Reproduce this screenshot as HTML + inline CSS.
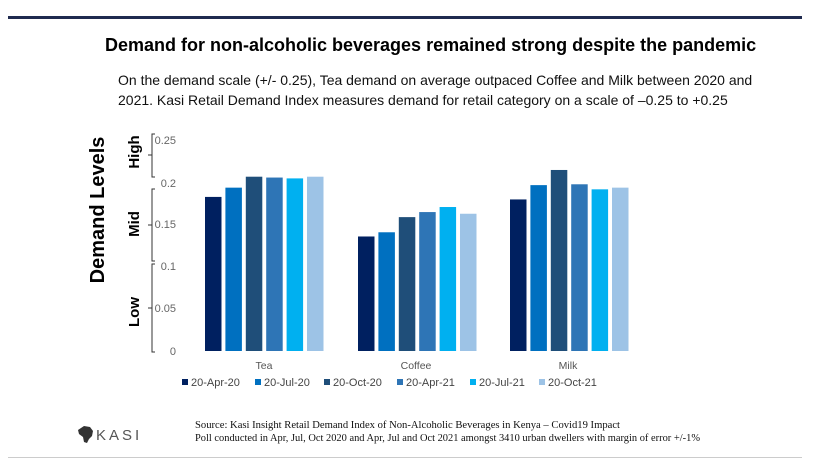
<!DOCTYPE html>
<html><head><style>
body{margin:0;width:829px;height:465px;background:#fff;font-family:"Liberation Sans",sans-serif;position:relative;overflow:hidden}
.a{position:absolute}
</style></head><body>
<div class="a" style="left:8px;top:16px;width:794px;height:3px;background:#1f2a4f"></div>
<div class="a" style="left:105px;top:35px;font-weight:bold;font-size:18px;color:#000;white-space:nowrap">Demand for non-alcoholic beverages remained strong despite the pandemic</div>
<div class="a" style="left:118px;top:70px;width:690px;font-size:14px;line-height:20px;color:#111">On the demand scale (+/- 0.25), Tea demand on average outpaced Coffee and Milk between 2020 and<br>2021. Kasi Retail Demand Index measures demand for retail category on a scale of –0.25 to +0.25</div>
<svg class="a" style="left:0;top:0" width="829" height="465" font-family="Liberation Sans, sans-serif">
<text transform="translate(104,210) rotate(-90)" text-anchor="middle" font-size="20" font-weight="bold">Demand Levels</text>
<text transform="translate(139,152) rotate(-90)" text-anchor="middle" font-size="15" font-weight="bold">High</text>
<text transform="translate(139,224) rotate(-90)" text-anchor="middle" font-size="15" font-weight="bold">Mid</text>
<text transform="translate(139,312) rotate(-90)" text-anchor="middle" font-size="15" font-weight="bold">Low</text>
<g stroke="#333" stroke-width="1" fill="none">
<path d="M155,134 H152 V177 H155 M152,155 H148"/>
<path d="M155,189 H152 V261 H155 M152,225 H148"/>
<path d="M155,264 H152 V352 H155 M152,308 H148"/>
</g>
<g font-size="11" fill="#666" text-anchor="end">
<text x="176" y="144">0.25</text><text x="176" y="187">0.2</text><text x="176" y="228">0.15</text>
<text x="176" y="270">0.1</text><text x="176" y="312">0.05</text><text x="176" y="355">0</text>
</g>
<g id="bars"></g>
<g font-size="10.5" fill="#555" text-anchor="middle">
<text x="264" y="369">Tea</text><text x="416" y="369">Coffee</text><text x="568" y="369">Milk</text>
</g>
<g font-size="11" fill="#444">
<rect x="182" y="379" width="6" height="6" fill="#002060"/><text x="191" y="386">20-Apr-20</text>
<rect x="255" y="379" width="6" height="6" fill="#0070c0"/><text x="264" y="386">20-Jul-20</text>
<rect x="324" y="379" width="6" height="6" fill="#1f4e79"/><text x="333" y="386">20-Oct-20</text>
<rect x="397" y="379" width="6" height="6" fill="#2e75b6"/><text x="406" y="386">20-Apr-21</text>
<rect x="470" y="379" width="6" height="6" fill="#00b0f0"/><text x="479" y="386">20-Jul-21</text>
<rect x="539" y="379" width="6" height="6" fill="#9dc3e6"/><text x="548" y="386">20-Oct-21</text>
</g>
<g font-family="Liberation Serif, serif" font-size="10" fill="#111">
<text x="195" y="428" textLength="425" lengthAdjust="spacingAndGlyphs">Source: Kasi Insight  Retail Demand Index of  Non-Alcoholic Beverages in Kenya – Covid19 Impact</text>
<text x="195" y="441" textLength="505" lengthAdjust="spacingAndGlyphs">Poll conducted in Apr, Jul, Oct 2020 and Apr, Jul and Oct 2021 amongst 3410 urban dwellers with margin of error +/-1%</text>
</g>
<path d="M78,430 l6,-4 6,1 3,4 -1,5 -3,3 -2,4 -3,-1 -1,-5 -4,-3z" fill="#333"/>
<text x="96" y="440" font-size="15" fill="#555" letter-spacing="3">KASI</text>
<rect x="8" y="457" width="794" height="1" fill="#ccc"/>
</svg>
<script>
var cols=["#002060","#0070c0","#1f4e79","#2e75b6","#00b0f0","#9dc3e6"];
var data=[[.183,.194,.207,.206,.205,.207],[.136,.141,.159,.165,.171,.163],[.180,.197,.215,.198,.192,.194]];
var starts=[205,358,510],s="";
data.forEach(function(g,i){g.forEach(function(v,j){var h=v*842;s+='<rect x="'+(starts[i]+j*20.4)+'" y="'+(351-h)+'" width="16.5" height="'+h+'" fill="'+cols[j]+'"/>';});});
document.getElementById("bars").innerHTML=s;
</script>
</body></html>
